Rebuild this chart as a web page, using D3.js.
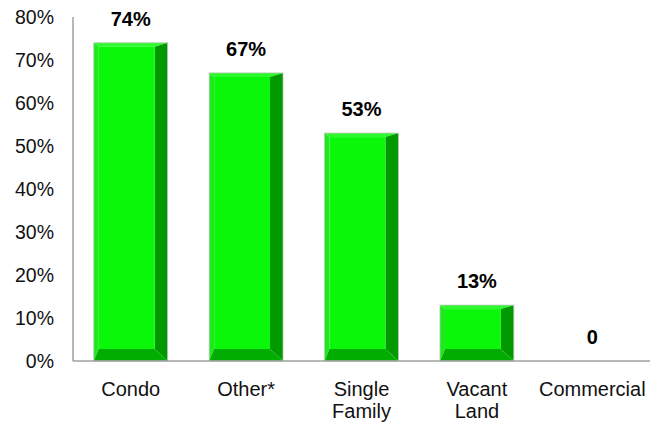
<!DOCTYPE html>
<html>
<head>
<meta charset="utf-8">
<script src="https://cdn.jsdelivr.net/npm/d3@7"></script>
<style>
body { margin: 0; background: #fff; }
text { font-family: Arial, "Liberation Sans", sans-serif; }
</style>
</head>
<body>
<div id="chart"></div>
<script>
// Data
var categories = [["Condo"], ["Other*"], ["Single", "Family"], ["Vacant", "Land"], ["Commercial"]];
var values = [0.74, 0.67, 0.53, 0.13, 0];
var labels = ["74%", "67%", "53%", "13%", "0"];
var yTicks = [0, 0.1, 0.2, 0.3, 0.4, 0.5, 0.6, 0.7, 0.8];

var width = 662, height = 427;
var plotLeft = 73, plotRight = 650, plotTop = 17, plotBottom = 361;

var svg = d3.select("#chart").append("svg").attr("width", width).attr("height", height);

var x = d3.scaleBand().domain(d3.range(values.length)).range([plotLeft, plotRight]).paddingInner(0.36).paddingOuter(0.18);
var y = d3.scaleLinear().domain([0, 0.8]).range([plotBottom, plotTop]);

// axes lines
svg.append("line").attr("x1", plotLeft).attr("x2", plotLeft).attr("y1", plotTop).attr("y2", plotBottom)
    .attr("stroke", "#a0a0a0").attr("stroke-width", 1.5);

svg.selectAll(".ytick")
    .data(yTicks)
    .enter()
    .append("text")
    .attr("x", 54)
    .attr("y", function(d){ return y(d); })
    .attr("dy", "0.36em")
    .attr("text-anchor", "end")
    .attr("font-size", 19.5)
    .attr("fill", "#111")
    .text(function(d){ return Math.round(d * 100) + "%"; });

// bevelled bars
var bars = svg.selectAll(".bar")
    .data(values)
    .enter()
    .append("g")
    .attr("class", "bar");

bars.each(function(v, i){
    if(v <= 0) return;
    var g = d3.select(this);
    var x0 = x(i), x1 = x(i) + x.bandwidth();
    var y0 = y(v), y1 = y(0);
    var bl = 5, bt = 4, br = 13, bb = 12;
    var ix0 = x0 + bl, ix1 = x1 - br, iy0 = y0 + bt, iy1 = y1 - bb;
    function poly(pts, fill){
	g.append("polygon").attr("points", pts.map(function(p){ return p.join(","); }).join(" ")).attr("fill", fill);
    }
    poly([[x0, y0], [x1, y0], [ix1, iy0], [ix0, iy0]], "#2cfa2c");   // top
    poly([[x0, y0], [ix0, iy0], [ix0, iy1], [x0, y1]], "#1fe81f");   // left
    poly([[x1, y0], [x1, y1], [ix1, iy1], [ix1, iy0]], "#009a00");   // right
    poly([[x0, y1], [ix0, iy1], [ix1, iy1], [x1, y1]], "#00ad00");   // bottom
    g.append("rect").attr("x", ix0).attr("y", iy0).attr("width", ix1 - ix0).attr("height", iy1 - iy0).attr("fill", "#0af70a");
    g.append("rect").attr("x", x0).attr("y", y0).attr("width", x1 - x0).attr("height", y1 - y0)
	.attr("fill", "none").attr("stroke", "#b8c8b8").attr("stroke-width", 0.8);
});

svg.append("line").attr("x1", plotLeft).attr("x2", plotRight).attr("y1", plotBottom).attr("y2", plotBottom)
    .attr("stroke", "#a0a0a0").attr("stroke-width", 1.5);

// value labels
svg.selectAll(".vlabel")
    .data(values)
    .enter()
    .append("text")
    .attr("x", function(d, i){ return x(i) + x.bandwidth() / 2; })
    .attr("y", function(d){ return y(d) - 17; })
    .attr("text-anchor", "middle")
    .attr("font-size", 20)
    .attr("font-weight", "bold")
    .attr("fill", "#000")
    .text(function(d, i){ return labels[i]; });

// category labels
var cat = svg.selectAll(".cat")
    .data(categories)
    .enter()
    .append("text")
    .attr("text-anchor", "middle")
    .attr("font-size", 20)
    .attr("fill", "#111")
    .attr("x", function(d, i){ return x(i) + x.bandwidth() / 2; })
    .attr("y", 396);
cat.selectAll("tspan")
    .data(function(d){ return d; })
    .enter()
    .append("tspan")
    .attr("x", function(){ var p = d3.select(this.parentNode); return p.attr("x"); })
    .attr("dy", function(d, j){ return j ? 22 : 0; })
    .text(function(d){ return d; });
</script>
</body>
</html>
